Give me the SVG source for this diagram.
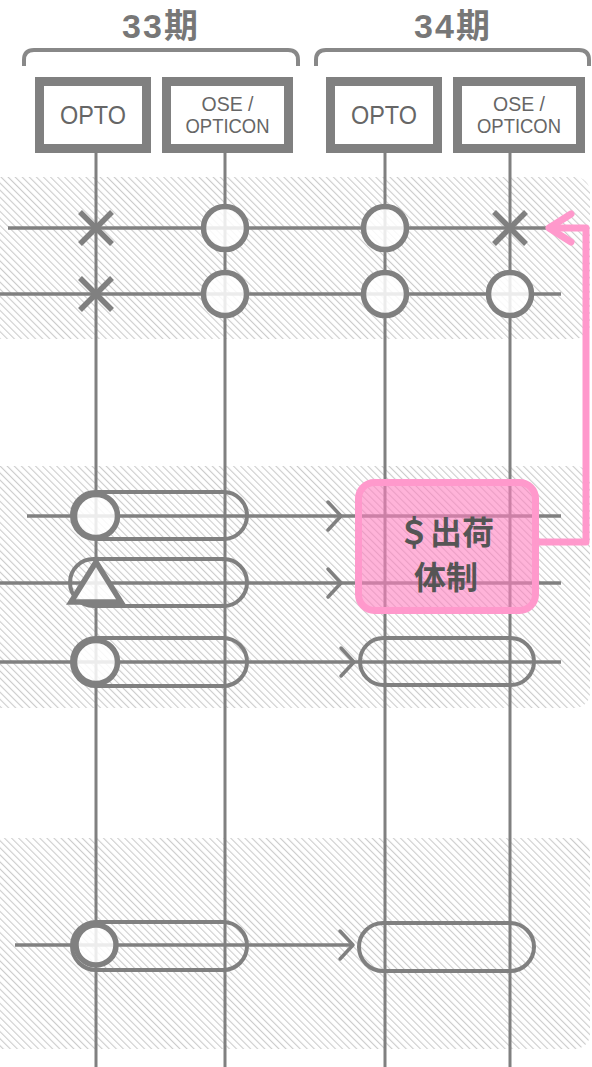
<svg xmlns="http://www.w3.org/2000/svg" xmlns:xlink="http://www.w3.org/1999/xlink" width="592" height="1067" viewBox="0 0 592 1067">
<style>
.title{font-family:"Liberation Sans","Noto Sans CJK JP",sans-serif;font-weight:bold;font-size:34px;fill:#777;text-anchor:middle;letter-spacing:2px}
.hdr{fill:#fff;stroke:#808080;stroke-width:9}
.ht{font-family:"Liberation Sans","Roboto",sans-serif;fill:#666;text-anchor:middle}
.brk{fill:none;stroke:#888;stroke-width:4}
.vl{stroke:#808080;stroke-width:3}
.hl{stroke:#808080;stroke-width:3.5}
.cap{fill:none;stroke:#808080;stroke-width:4}
.circ{fill:#fff;fill-opacity:0.85;stroke:#808080;stroke-width:5.5}
.x{stroke:#808080;stroke-width:5.5}
.chev{fill:none;stroke:#808080;stroke-width:3.5;stroke-linecap:round;stroke-linejoin:round}
.pink{fill:none;stroke:#ff99cc;stroke-width:7;stroke-linecap:round;stroke-linejoin:round}
.pt{font-family:"Liberation Sans","Noto Sans CJK JP",sans-serif;font-weight:bold;font-size:32px;fill:#555;text-anchor:middle}
</style>
<defs>
<pattern id="hatch" width="5" height="5" patternUnits="userSpaceOnUse" patternTransform="rotate(-45)">
<rect width="5" height="5" fill="#fff"/>
<line x1="0" y1="0" x2="0" y2="5" stroke="#cccccc" stroke-width="2.2"/>
</pattern>
<path id="chv" d="M-13,-14 L0,0 L-13,14"/>
</defs>

<g id="bands">
<rect x="-20" y="177" width="610" height="162" rx="15" fill="url(#hatch)"/>
<rect x="-20" y="466" width="610" height="242" rx="15" fill="url(#hatch)"/>
<rect x="-20" y="838" width="610" height="211" rx="15" fill="url(#hatch)"/>
</g>

<g id="period-33">
<text class="title" x="161" y="38">33期</text>
<path class="brk" d="M24,66 V60 Q24,50 34,50 H288 Q298,50 298,60 V66"/>
</g>
<g id="period-34">
<text class="title" x="453" y="38">34期</text>
<path class="brk" d="M316,66 V60 Q316,50 326,50 H579 Q589,50 589,60 V66"/>
</g>

<g id="connectors">
<line class="vl" x1="96" y1="153" x2="96" y2="1067"/>
<line class="vl" x1="225" y1="153" x2="225" y2="1067"/>
<line class="vl" x1="385" y1="153" x2="385" y2="1067"/>
<line class="vl" x1="510" y1="153" x2="510" y2="1067"/>
<line class="hl" x1="8" y1="228" x2="548" y2="228"/>
<line class="hl" x1="0" y1="294" x2="561" y2="294"/>
<line class="hl" x1="27" y1="516" x2="561" y2="516"/>
<line class="hl" x1="0" y1="583" x2="561" y2="583"/>
<line class="hl" x1="0" y1="662" x2="561" y2="662"/>
<line class="hl" x1="15" y1="945" x2="353" y2="945"/>
<use href="#chv" class="chev" x="341" y="516"/>
<use href="#chv" class="chev" x="341" y="583"/>
<use href="#chv" class="chev" x="354" y="662"/>
<use href="#chv" class="chev" x="353" y="945"/>
</g>

<g id="h-opto-33">
<rect class="hdr" x="39.5" y="81.5" width="107" height="67"/>
<text class="ht" x="93" y="124" font-size="26" textLength="66" lengthAdjust="spacingAndGlyphs">OPTO</text>
</g>
<g id="h-ose-33">
<rect class="hdr" x="166.5" y="81.5" width="122" height="67"/>
<text class="ht" x="227.5" y="111" font-size="21" textLength="52" lengthAdjust="spacingAndGlyphs">OSE /</text>
<text class="ht" x="227.5" y="133" font-size="21" textLength="84" lengthAdjust="spacingAndGlyphs">OPTICON</text>
</g>
<g id="h-opto-34">
<rect class="hdr" x="330.5" y="81.5" width="107" height="67"/>
<text class="ht" x="384" y="124" font-size="26" textLength="66" lengthAdjust="spacingAndGlyphs">OPTO</text>
</g>
<g id="h-ose-34">
<rect class="hdr" x="457.5" y="81.5" width="123" height="67"/>
<text class="ht" x="519" y="111" font-size="21" textLength="52" lengthAdjust="spacingAndGlyphs">OSE /</text>
<text class="ht" x="519" y="133" font-size="21" textLength="84" lengthAdjust="spacingAndGlyphs">OPTICON</text>
</g>

<g id="row1">
<path class="x" d="M80,212 L112,244 M112,212 L80,244"/>
<circle class="circ" cx="225" cy="228" r="21.5"/>
<circle class="circ" cx="385" cy="228" r="21.5"/>
<path class="x" d="M494,212 L526,244 M526,212 L494,244"/>
</g>
<g id="row2">
<path class="x" d="M80,278 L112,310 M112,278 L80,310"/>
<circle class="circ" cx="225" cy="294" r="21.5"/>
<circle class="circ" cx="385" cy="294" r="21.5"/>
<circle class="circ" cx="510" cy="294" r="21.5"/>
</g>

<g id="row-a">
<rect class="cap" x="72" y="492" width="175" height="47" rx="23.5"/>
<circle class="circ" cx="96" cy="516" r="21.5" stroke-width="6.5"/>
</g>
<g id="row-b">
<rect class="cap" x="70" y="559" width="177" height="47" rx="23.5"/>
<path class="circ" d="M96,562 L121,602 L71,602 Z" stroke-width="6"/>
</g>
<g id="row-c">
<rect class="cap" x="72" y="638" width="175" height="48" rx="24"/>
<circle class="circ" cx="96" cy="662" r="21.5" stroke-width="6.5"/>
<rect class="cap" x="360" y="638" width="174" height="47" rx="23.5"/>
</g>
<g id="row-d">
<rect class="cap" x="72" y="922" width="175" height="48" rx="24"/>
<circle class="circ" cx="96" cy="945" r="20" stroke-width="6.5"/>
<rect class="cap" x="359" y="923" width="175" height="48" rx="24"/>
</g>

<g id="shipping">
<rect x="358.5" y="482.5" width="177" height="128" rx="16" fill="#ff80bf" fill-opacity="0.6" stroke="#ff99cc" stroke-width="7"/>
<text class="pt" x="446" y="544">＄出荷</text>
<text class="pt" x="446" y="589">体制</text>
</g>
<g id="pink-connector">
<path class="pink" d="M539,542 H586 V228 H550"/>
<path class="pink" d="M571,214 L549,228 L571,242"/>
</g>
</svg>
